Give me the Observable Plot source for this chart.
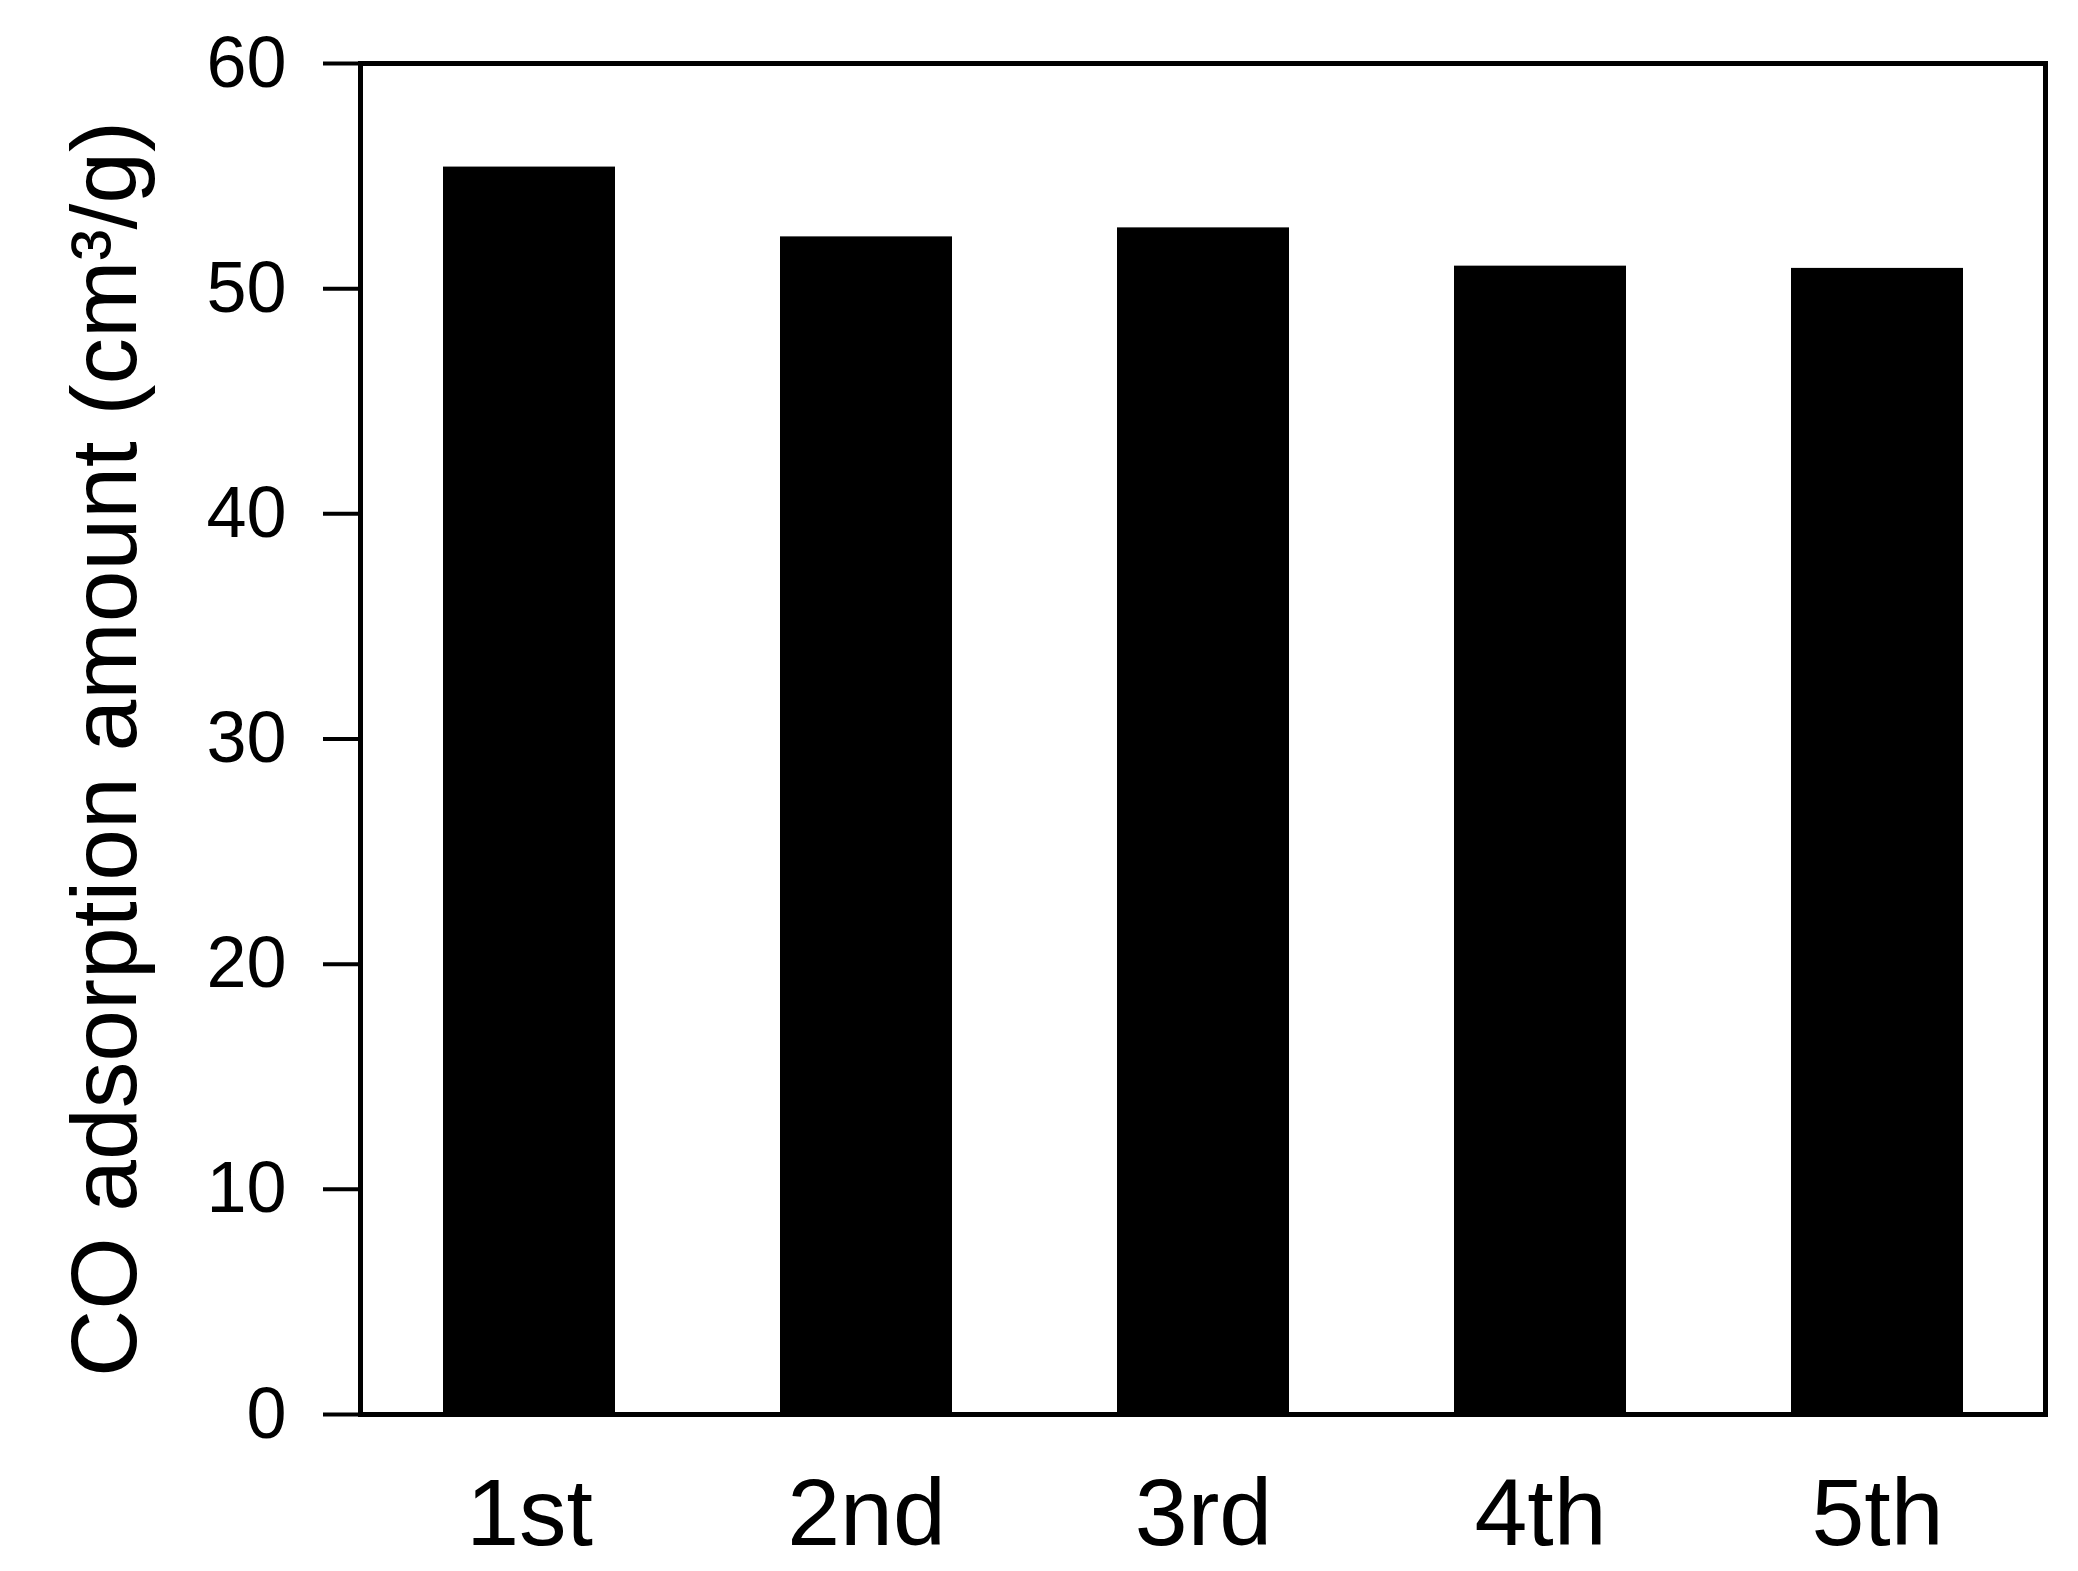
<!DOCTYPE html>
<html>
<head>
<meta charset="utf-8">
<script src="https://cdn.jsdelivr.net/npm/d3@7"></script>
<script src="https://cdn.jsdelivr.net/npm/@observablehq/plot@0.6"></script>
<style>
  html, body { margin: 0; padding: 0; background: #fff; }
  #chart { width: 2078px; height: 1571px; }
</style>
</head>
<body>
<div id="chart"></div>
<script>
const cycles = ["1st", "2nd", "3rd", "4th", "5th"];
const amounts = [55.4, 52.3, 52.7, 51.0, 50.9];
const yTicks = [0, 10, 20, 30, 40, 50, 60];
const yTitle = "CO adsorption amount (cm³/g)";

const data = cycles.map((c, i) => ({cycle: c, amount: amounts[i]}));

const chart = Plot.plot({
  width: 2078,
  height: 1571,
  marginLeft: 360,
  marginRight: 33,
  marginTop: 63,
  marginBottom: 157,
  style: {fontFamily: "'Liberation Sans', Arial, sans-serif", background: "white", color: "black"},
  x: {domain: cycles, paddingInner: 0.49, paddingOuter: 0.245, label: null},
  y: {domain: [0, 60], label: null},
  marks: [
    Plot.barY(data, {x: "cycle", y: "amount", fill: "black"}),
    Plot.axisY({ticks: yTicks, tickSize: 37, tickPadding: 37, fontSize: 72, strokeWidth: 4, label: null, tickFormat: d => String(d)}),
    Plot.axisX({tickSize: 0, tickPadding: 63, fontSize: 95, label: null}),
    Plot.frame({stroke: "black", strokeWidth: 5}),
    Plot.text([yTitle], {frameAnchor: "left", rotate: -90, dx: -254, dy: 10, fontSize: 93, fill: "black", textAnchor: "middle"})
  ]
});
document.getElementById("chart").appendChild(chart);
</script>
</body>
</html>
